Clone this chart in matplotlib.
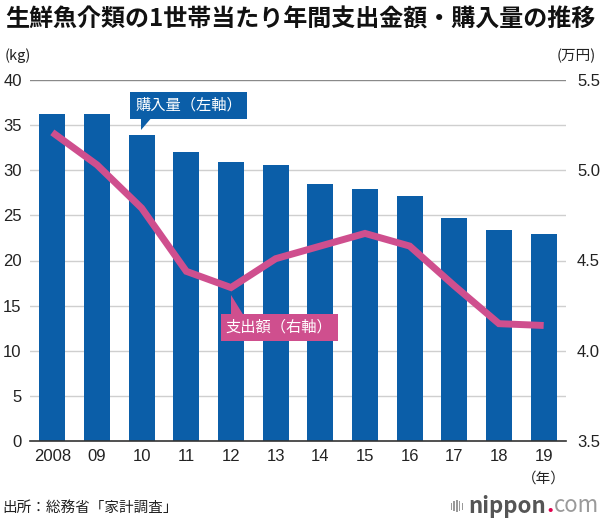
import matplotlib
matplotlib.use("Agg")
import matplotlib.pyplot as plt
from matplotlib.patches import Polygon, Rectangle

plt.rcParams['font.family'] = ['Noto Sans CJK JP', 'DejaVu Sans']

years = ["2008", "09", "10", "11", "12", "13", "14", "15", "16", "17", "18", "19"]
purchase_kg = [36.2, 36.2, 33.9, 32.0, 30.9, 30.6, 28.5, 27.9, 27.1, 24.7, 23.4, 22.9]
spending_man_yen = [5.21, 5.03, 4.79, 4.44, 4.35, 4.51, 4.58, 4.65, 4.58, 4.36, 4.15, 4.14]
left_ticks = [0, 5, 10, 15, 20, 25, 30, 35, 40]
right_ticks = [3.5, 4.0, 4.5, 5.0, 5.5]

BLUE = "#0b5ea8"
PINK = "#cf4f8e"
NUMFONT = ['Liberation Sans', 'DejaVu Sans']

fig = plt.figure(figsize=(6.0, 5.22), dpi=100)
ax = fig.add_axes([30/600, 81/522, 536/600, 361/522])
ax2 = ax.twinx()

x = list(range(len(years)))
ax.bar(x, purchase_kg, width=0.58, color=BLUE, zorder=2)
ax.set_xlim(-0.5, len(years) - 0.5)
ax.set_ylim(0, 40)
ax.set_yticks(left_ticks)
for t in left_ticks[1:]:
    ax.axhline(t, color="#8a8a8a" if t == 40 else "#cfcfcf", lw=1.0, zorder=1)
ax.set_xticks(x)
ax.set_xticklabels(years, fontsize=12, color="#222222", family=NUMFONT)
for lab in ax.get_yticklabels():
    lab.set_family(NUMFONT)
ax.tick_params(axis='x', length=0, pad=6)
ax.tick_params(axis='y', length=0, pad=6, labelsize=12, labelcolor="#222222")
for lab in ax.get_yticklabels():
    lab.set_family(NUMFONT)
for s in ['top', 'left', 'right']:
    ax.spines[s].set_visible(False)
ax.spines['bottom'].set_color("#333333")
ax.spines['bottom'].set_linewidth(1.2)
ax.spines['bottom'].set_zorder(3)

ax2.plot(x, spending_man_yen, color=PINK, lw=5, solid_joinstyle='miter', solid_capstyle='butt', zorder=3)
ax2.set_ylim(3.5, 5.5)
ax2.set_yticks(right_ticks)
ax2.set_yticklabels([f"{v:.1f}" for v in right_ticks], family=NUMFONT)
ax2.tick_params(axis='y', length=0, pad=8, labelsize=12, labelcolor="#222222")
for s in ['top', 'left', 'right', 'bottom']:
    ax2.spines[s].set_visible(False)

# Callout: purchase volume (left axis)
ax.text(3.05, 37.2, "購入量（左軸）", color="white", fontsize=11, ha='center', va='center',
        bbox=dict(boxstyle='square,pad=0.33', fc=BLUE, ec='none'), zorder=5)
tip_x, tip_y = 2, purchase_kg[2] + 0.55
ax.add_patch(Polygon([[tip_x - 0.02, tip_y], [tip_x - 0.02, 36.0], [tip_x + 0.25, 36.0]],
                     closed=True, fc=BLUE, ec='none', zorder=5))

# Callout: spending (right axis)
ax2.text(5.08, 4.13, "支出額（右軸）", color="white", fontsize=11, ha='center', va='center',
         bbox=dict(boxstyle='square,pad=0.33', fc=PINK, ec='none'), zorder=6)
tip2_x, tip2_y = 4, spending_man_yen[4] - 0.04
ax2.add_patch(Polygon([[tip2_x, tip2_y], [tip2_x, 4.19], [tip2_x + 0.3, 4.19]],
                      closed=True, fc=PINK, ec='none', zorder=6))

fig.text(5/600, 1 - 20/522, "生鮮魚介類の1世帯当たり年間支出金額・購入量の推移",
         fontsize=17.3, fontweight='bold', ha='left', va='center', color="#111111")
fig.text(5/600, 1 - 56/522, "(kg)", fontsize=10.5, ha='left', va='center', color="#222222")
fig.text(596/600, 1 - 56/522, "(万円)", fontsize=10.5, ha='right', va='center', color="#222222")
ax.text(11, -4.2, "（年）", fontsize=10.5, ha='center', va='center', color="#222222")
fig.text(2/600, 1 - 508/522, "出所：総務省「家計調査」", fontsize=10.5, ha='left', va='center', color="#222222")

t1 = fig.text(0.0, 1 - 506/522, "nippon", fontsize=16, fontweight='bold', ha='left', va='center', color="#555555")
fig.canvas.draw()
r = fig.canvas.get_renderer()
t2 = fig.text(0, 1 - 506/522, ".", fontsize=16, fontweight='bold', ha='left', va='center', color="#e0004d")
t3 = fig.text(0, 1 - 506/522, "com", fontsize=16, ha='left', va='center', color="#9a9a9a")
w1 = t1.get_window_extent(r).width
w2 = t2.get_window_extent(r).width
w3 = t3.get_window_extent(r).width
right = 599
x3 = right - w3
x2 = x3 - w2
x1 = x2 - w1
t1.set_x(x1 / 600); t2.set_x(x2 / 600); t3.set_x(x3 / 600)
for i in range(5):
    fig.patches.append(Rectangle(((x1 - 18 + i * 2.8) / 600, 1 - (512 + (12 - abs(i - 2) * 2.5) / 2 - 6) / 522 - 0.0),
                                 1.3/600, (12 - abs(i - 2) * 2.5) / 522,
                                 transform=fig.transFigure, fc="#9a9a9a", ec='none'))

fig.savefig("out.png", dpi=100)
